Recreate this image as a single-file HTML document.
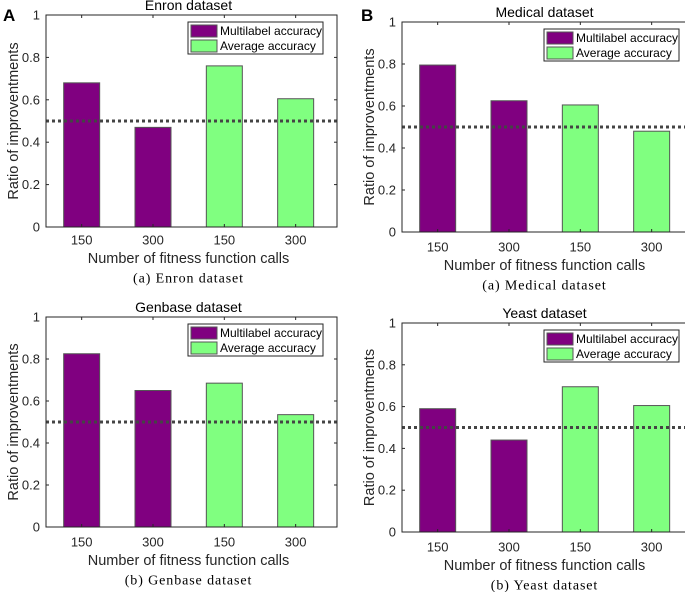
<!DOCTYPE html>
<html><head><meta charset="utf-8"><style>
body{margin:0;background:#fff;}
svg{display:block;font-family:"Liberation Sans",sans-serif;}
</style></head><body>
<svg id="fig" width="685" height="592" viewBox="0 0 685 592" xmlns="http://www.w3.org/2000/svg"></svg>
<script>
const categories = ["150","300","150","300"];
const seriesKinds = ["multi","multi","avg","avg"];
const yTicks = [0,0.2,0.4,0.6,0.8,1];
const yTickLabels = ["0","0.2","0.4","0.6","0.8","1"];
const refLine = 0.5;
const enronValues = [0.68,0.47,0.76,0.605];
const medicalValues = [0.795,0.625,0.605,0.48];
const genbaseValues = [0.825,0.65,0.685,0.535];
const yeastValues = [0.59,0.44,0.695,0.605];

const NS="http://www.w3.org/2000/svg";
const svg=document.getElementById('fig');
function mk(tag,attrs,parent,text){const e=document.createElementNS(NS,tag);for(const k in attrs)e.setAttribute(k,attrs[k]);if(text!==undefined)e.textContent=text;(parent||svg).appendChild(e);return e;}
const COL={multi:"#800080",avg:"#80ff80"};

function panel(cfg){
  const g=mk('g',{});
  
  
  const L=cfg.left,T=cfg.top,B=cfg.bottom,W=291;
  const unit=71.33;
  const x=v=>L+(v-0.5)*unit;
  const y=v=>B-(B-T)*v;
  cfg.values.forEach((v,i)=>{
    const r=mk('rect',{x:x(i+1)-18,y:y(v),width:36,height:y(0)-y(v),fill:COL[seriesKinds[i]],stroke:"#555","stroke-width":1},g);
    
    
  });
  const dl=mk('line',{x1:L,x2:L+W,y1:y(refLine),y2:y(refLine),stroke:"#444","stroke-width":3,"stroke-dasharray":"3 3"},g);
  
  
  mk('rect',{x:L,y:T,width:W,height:B-T,fill:"none",stroke:"#262626","stroke-width":1},g);
  yTicks.forEach((t,i)=>{
    mk('line',{x1:L,x2:L+3,y1:y(t),y2:y(t),stroke:"#262626"},g);
    mk('line',{x1:L+W,x2:L+W-3,y1:y(t),y2:y(t),stroke:"#262626"},g);
    const tl=mk('text',{x:L-6,y:y(t)+4.5,"text-anchor":"end","font-size":13,fill:"#262626"},g,yTickLabels[i]);
    
    
  });
  categories.forEach((c,i)=>{
    mk('line',{x1:x(i+1),x2:x(i+1),y1:B,y2:B-3,stroke:"#262626"},g);
    mk('line',{x1:x(i+1),x2:x(i+1),y1:T,y2:T+3,stroke:"#262626"},g);
    const tl=mk('text',{x:x(i+1),y:cfg.tickY+4.5,"text-anchor":"middle","font-size":13,fill:"#262626"},g,c);
    
    
  });
  const cx=L+142.5;
  const ti=mk('text',{x:cx,y:T-5,"text-anchor":"middle","font-size":14,fill:"#000"},g,cfg.title);
  
  
  const xl=mk('text',{x:cx,y:cfg.xlabY+5,"text-anchor":"middle","font-size":14.5,fill:"#262626"},g,"Number of fitness function calls");
  
  
  const yl=mk('text',{x:0,y:0,"text-anchor":"middle","font-size":14.5,fill:"#262626",transform:`translate(${L-28},${(T+B)/2}) rotate(-90)`},g,"Ratio of improventments");
  
  
  const cap=mk('text',{x:cx,y:cfg.capY+4.5,"text-anchor":"middle","font-size":14,"letter-spacing":"0.9",fill:"#000","font-family":"Liberation Serif,serif"},g,cfg.caption);
  
  
  const lx=L+142,ly=T+7;
  const lg=mk('g',{},g);
  
  
  mk('rect',{x:lx,y:ly,width:135,height:32,fill:"#fff",stroke:"#262626","stroke-width":1},lg);
  [["multi","Multilabel accuracy"],["avg","Average accuracy"]].forEach((e,i)=>{
    const yy=ly+3+i*15;
    mk('rect',{x:lx+3,y:yy,width:26,height:12,fill:COL[e[0]],stroke:"#555"},lg);
    const t=mk('text',{x:lx+32,y:yy+10,"font-size":12,fill:"#000"},lg,e[1]);
    
    
  });
}
panel({name:"enron",title:"Enron dataset",caption:"(a) Enron dataset",values:enronValues,left:46,top:15,bottom:227,tickY:240,xlabY:258,capY:278});
panel({name:"medical",title:"Medical dataset",caption:"(a) Medical dataset",values:medicalValues,left:402,top:22,bottom:232,tickY:247,xlabY:265,capY:285});
panel({name:"genbase",title:"Genbase dataset",caption:"(b) Genbase dataset",values:genbaseValues,left:46,top:317,bottom:527,tickY:542,xlabY:560,capY:580});
panel({name:"yeast",title:"Yeast dataset",caption:"(b) Yeast dataset",values:yeastValues,left:402,top:323,bottom:532,tickY:547,xlabY:565,capY:585});
const a=mk('text',{x:3,y:21,"font-size":17,"font-weight":"bold",fill:"#000"},svg,"A");


const b=mk('text',{x:361,y:21,"font-size":17,"font-weight":"bold",fill:"#000"},svg,"B");


</script>
</body></html>
